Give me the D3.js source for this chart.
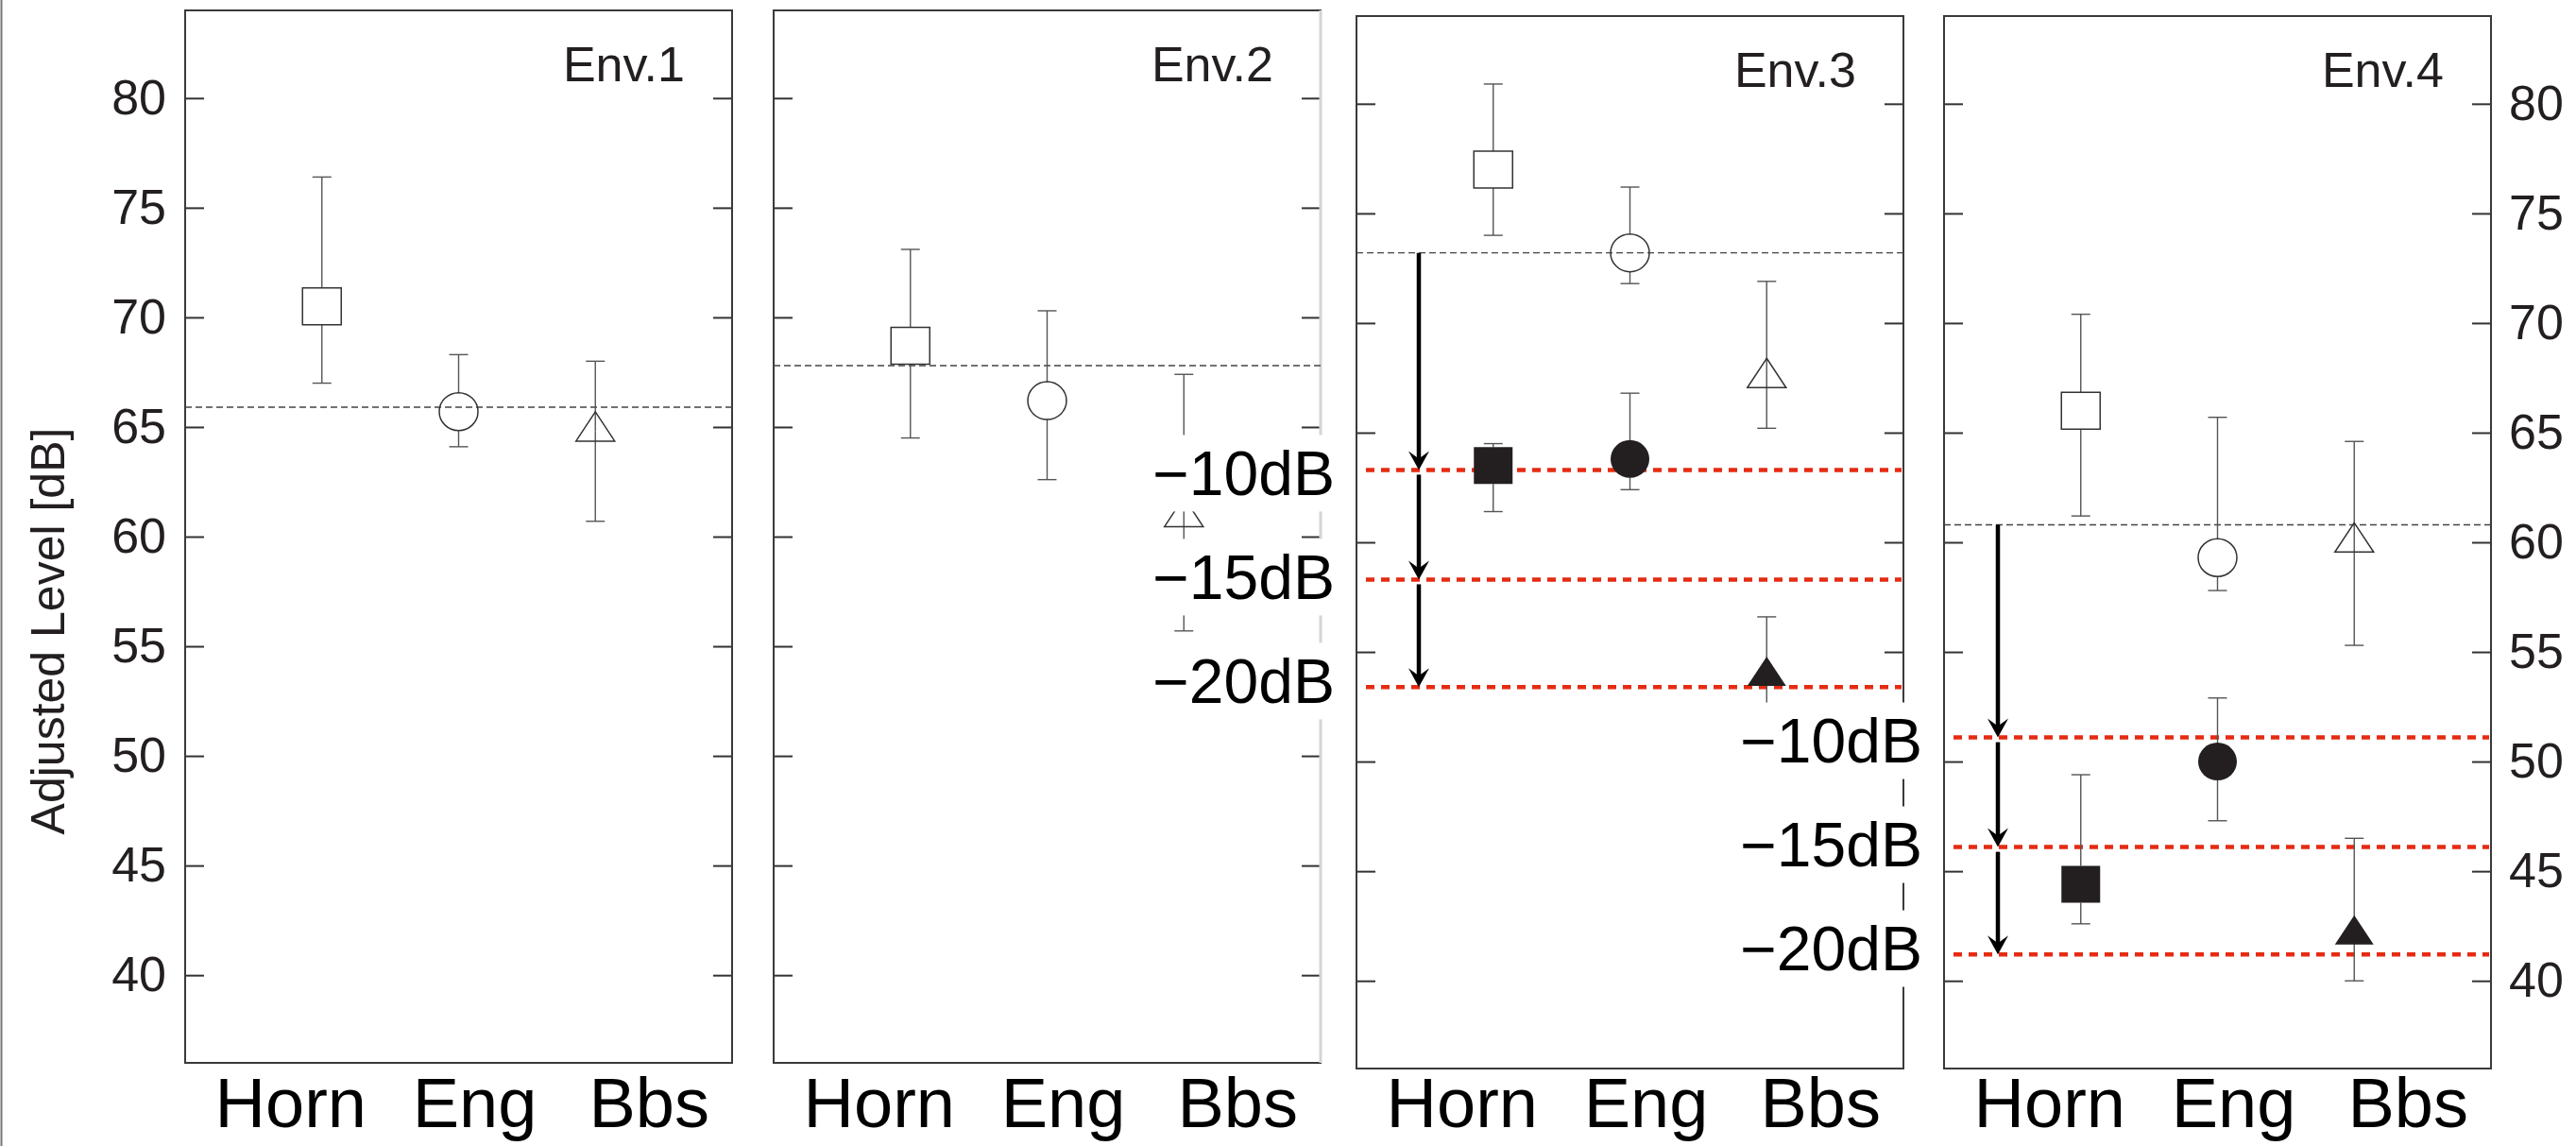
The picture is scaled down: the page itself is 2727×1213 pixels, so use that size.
<!DOCTYPE html>
<html>
<head>
<meta charset="utf-8">
<script src="https://cdn.jsdelivr.net/npm/d3@7"></script>
<style>
  body { margin: 0; background: #fff; }
  svg { display: block; font-family: "Liberation Sans", Arial, sans-serif; }
</style>
</head>
<body>
<div class="chart"></div>
<script>
// ===============================
// Data
// ===============================

const categories = ["Horn", "Eng", "Bbs"];
const envNames = ["Env.1", "Env.2", "Env.3", "Env.4"];
const yTicks = [40, 45, 50, 55, 60, 65, 70, 75, 80];

// open markers: mean, upper and lower end of the error bar
const openMean = [
    [70.5, 65.7, 64.8],
    [68.7, 66.2, 60.9],
    [77.0, 73.2, 67.5],
    [66.0, 59.3, 60.0]
];
const openHigh = [
    [76.4, 68.3, 68.0],
    [73.1, 70.3, 67.4],
    [80.9, 76.2, 71.9],
    [70.4, 65.7, 64.6]
];
const openLow = [
    [67.0, 64.1, 60.7],
    [64.5, 62.6, 55.7],
    [74.0, 71.8, 65.2],
    [61.2, 57.8, 55.3]
];

// filled markers, only Env.3 and Env.4
const filledMean = [
    [63.5, 63.8, 53.9],
    [44.4, 50.0, 42.1]
];
const filledHigh = [
    [64.5, 66.8, 56.6],
    [49.4, 52.9, 46.5]
];
const filledLow = [
    [61.4, 62.4, 52.4],
    [42.6, 47.3, 40.0]
];

// black dashed reference level per environment
const baseLevel = [65.9, 67.8, 73.2, 60.8];

// red dashed target levels for Env.3 and Env.4
const targetLevels = [
    [63.3, 58.3, 53.4],
    [51.1, 46.1, 41.2]
];
const targetNames = ["\u221210dB", "\u221215dB", "\u221220dB"];


// ===============================
// Layout
// ===============================

const width = 2727;
const height = 1213;

const panelLeft = [196, 819, 1436, 2058];
const panelTop = [11, 11, 17, 17];
const panelW = 579;
const panelH = 1114;

const ink = "#231f20";
const red = "#e52b12";
const mk = 41;          // marker size
const triH = 31;        // triangle height
const labelShift = [-33, 17, 57];   // category label offset from the marker column

const svg = d3.select(".chart")
    .append("svg")
    .attr("width", width)
    .attr("height", height);

// thin frame line at the very left edge
svg.append("line")
    .attr("x1", 1.5).attr("x2", 1.5)
    .attr("y1", 0).attr("y2", height)
    .attr("stroke", "#777")
    .attr("stroke-width", 2);

const scales = envNames.map((name, i) => {
    const x = d3.scalePoint()
        .domain(categories)
        .range([panelLeft[i], panelLeft[i] + panelW])
        .padding(1);
    const y = d3.scaleLinear()
        .domain([36, 84])
        .range([panelTop[i] + panelH, panelTop[i]]);
    return { x, y };
});

const shapePath = (shape, cx, cy) => {
    if (shape === "Horn") {
        return `M${cx - mk / 2},${cy - mk / 2 + 1}h${mk}v${mk - 2}h${-mk}Z`;
    }
    if (shape === "Eng") {
        const r = mk / 2;
        return `M${cx - r},${cy}a${r},${r - 0.5} 0 1,0 ${2 * r},0a${r},${r - 0.5} 0 1,0 ${-2 * r},0Z`;
    }
    return `M${cx},${cy - triH * 2 / 3}L${cx + mk / 2},${cy + triH / 3}L${cx - mk / 2},${cy + triH / 3}Z`;
};

// gap the error bar leaves around a marker
const markerGap = c => c === "Bbs" ? 0 : mk / 2 - 1;


// ===============================
// Panels
// ===============================

envNames.forEach((name, i) => {

    const { x, y } = scales[i];
    const g = svg.append("g");
    const left = panelLeft[i];
    const top = panelTop[i];

    // ---- ticks (inside, both sides)
    const axL = g.append("g")
        .attr("transform", `translate(${left},0)`)
        .call(d3.axisLeft(y).tickValues(yTicks).tickSizeInner(-20).tickSizeOuter(0).tickPadding(20));

    const axR = g.append("g")
        .attr("transform", `translate(${left + panelW},0)`)
        .call(d3.axisRight(y).tickValues(yTicks).tickSizeInner(-20).tickSizeOuter(0).tickPadding(19));

    if (i !== 0) axL.selectAll("text").remove();
    if (i !== 3) axR.selectAll("text").remove();

    [axL, axR].forEach(ax => {
        ax.select(".domain").remove();
        ax.selectAll("line").attr("stroke", "#333").attr("stroke-width", 2);
        ax.selectAll("text")
            .attr("fill", ink)
            .style("font-size", "52px")
            .style("font-family", "'Liberation Sans', Arial, sans-serif");
    });

    // ---- frame
    g.append("rect")
        .attr("x", left).attr("y", top)
        .attr("width", panelW).attr("height", panelH)
        .attr("fill", "none")
        .attr("stroke", "#3a3a3a")
        .attr("stroke-width", 2);

    if (i === 1) {
        // right edge of Env.2 is printed light
        g.append("line")
            .attr("x1", left + panelW).attr("x2", left + panelW)
            .attr("y1", top).attr("y2", top + panelH)
            .attr("stroke", "#d4d4d4")
            .attr("stroke-width", 3);
    }

    // ---- black dashed reference line
    g.append("line")
        .attr("x1", left).attr("x2", left + panelW)
        .attr("y1", y(baseLevel[i])).attr("y2", y(baseLevel[i]))
        .attr("stroke", "#444")
        .attr("stroke-width", 1.4)
        .attr("stroke-dasharray", "7,4");

    // ---- red target lines (Env.3, Env.4)
    const t = i - 2;
    if (t >= 0) {
        g.selectAll(".target")
            .data(targetLevels[t])
            .join("line")
            .attr("x1", left + 10)
            .attr("x2", left + panelW - 2)
            .attr("y1", d => y(d))
            .attr("y2", d => y(d))
            .attr("stroke", red)
            .attr("stroke-width", 4.5)
            .attr("stroke-dasharray", "9,7");
    }

    // ---- error bars + markers
    const drawSeries = (mean, high, low, filled) => {

        const rows = categories.map((c, k) => ({ c, m: mean[k], hi: high[k], lo: low[k] }));

        rows.forEach(d => {
            const cx = x(d.c);
            const cy = y(d.m);
            const bar = g.append("g")
                .attr("stroke", "#555")
                .attr("stroke-width", 1.4);

            bar.append("line")
                .attr("x1", cx).attr("x2", cx)
                .attr("y1", y(d.hi)).attr("y2", cy - markerGap(d.c));
            bar.append("line")
                .attr("x1", cx).attr("x2", cx)
                .attr("y1", cy + markerGap(d.c)).attr("y2", y(d.lo));
            [d.hi, d.lo].forEach(v => {
                bar.append("line")
                    .attr("x1", cx - 10).attr("x2", cx + 10)
                    .attr("y1", y(v)).attr("y2", y(v));
            });

            g.append("path")
                .attr("d", shapePath(d.c, cx, cy))
                .attr("fill", filled ? ink : "none")
                .attr("stroke", filled ? "none" : "#333")
                .attr("stroke-width", 1.5);
        });
    };

    drawSeries(openMean[i], openHigh[i], openLow[i], false);
    if (t >= 0) drawSeries(filledMean[t], filledHigh[t], filledLow[t], true);

    // ---- arrows going down from the reference level
    if (t >= 0) {
        const ax = left + (i === 2 ? 66 : 57);
        const starts = [baseLevel[i], ...targetLevels[t].slice(0, 2)];

        starts.forEach((s, k) => {
            const y0 = y(s) + (k === 0 ? 0 : 5);
            const tip = y(targetLevels[t][k]);

            g.append("line")
                .attr("x1", ax).attr("x2", ax)
                .attr("y1", y0).attr("y2", tip - 8)
                .attr("stroke", "#000")
                .attr("stroke-width", 4.5);

            g.append("path")
                .attr("d", `M${ax},${tip}L${ax - 11},${tip - 20}L${ax},${tip - 12}L${ax + 11},${tip - 20}Z`)
                .attr("fill", "#000");
        });
    }

    // ---- environment name
    g.append("text")
        .attr("x", left + panelW - 50)
        .attr("y", top + 75)
        .attr("text-anchor", "end")
        .attr("fill", ink)
        .style("font-size", "52px")
        .text(name);

    // ---- category labels
    g.selectAll(".cat")
        .data(categories)
        .join("text")
        .attr("x", (d, k) => x(d) + labelShift[k])
        .attr("y", 1193)
        .attr("text-anchor", "middle")
        .attr("fill", "#000")
        .style("font-size", "74px")
        .text(d => d);
});


// ===============================
// -10 / -15 / -20 dB labels on white boxes
// ===============================

[2, 3].forEach(i => {

    const t = i - 2;
    const { y } = scales[i];
    const xRight = panelLeft[i] - 23;
    const y0 = y(targetLevels[t][0]) + 3;

    targetNames.forEach((label, k) => {
        const cy = y0 + k * 110;

        svg.append("rect")
            .attr("x", panelLeft[i] - 224)
            .attr("y", cy - 40)
            .attr("width", 219)
            .attr("height", 81)
            .attr("fill", "#fff");

        svg.append("text")
            .attr("x", xRight)
            .attr("y", cy)
            .attr("dy", "0.36em")
            .attr("text-anchor", "end")
            .attr("fill", "#000")
            .style("font-size", "66px")
            .text(label);
    });
});


// ===============================
// Y axis title
// ===============================

svg.append("text")
    .attr("transform", "translate(68,668) rotate(-90)")
    .attr("text-anchor", "middle")
    .attr("fill", ink)
    .style("font-size", "50px")
    .text("Adjusted Level [dB]");
</script>
</body>
</html>
